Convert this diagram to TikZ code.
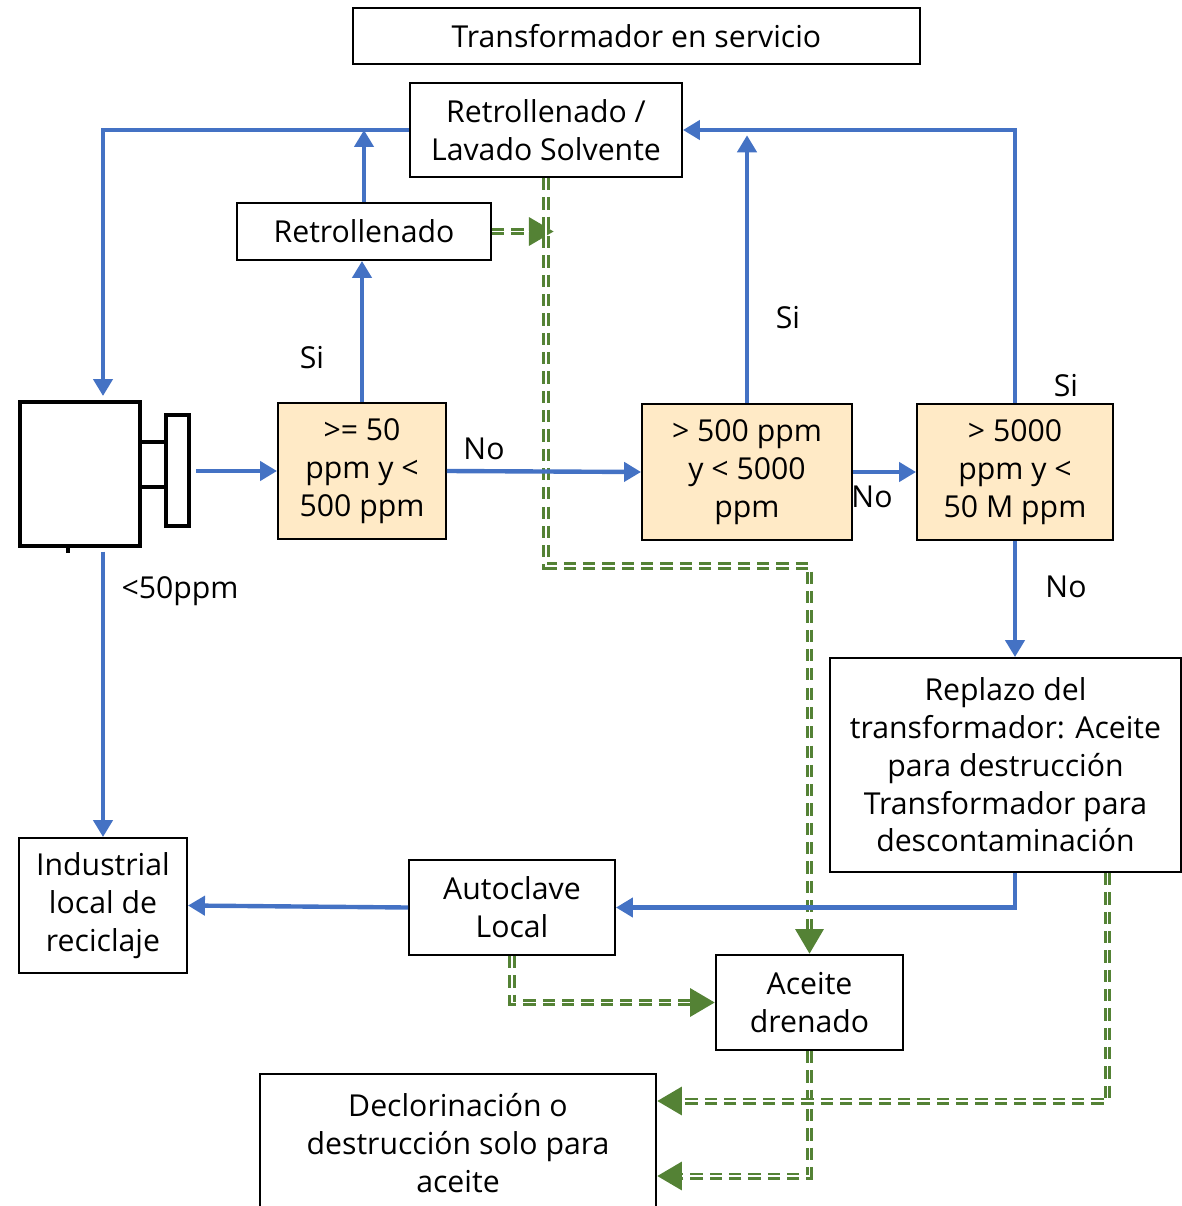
\documentclass[tikz,border=0pt]{standalone}
\usepackage{fontspec}
\setmainfont{Open Sans}
\usepackage{xcolor}
\definecolor{pcbblue}{HTML}{4472C4}
\definecolor{pcbgreen}{HTML}{548235}
\definecolor{pcbyellow}{HTML}{FFEAC6}
\usepackage{tikz}
\usetikzlibrary{positioning,arrows.meta,calc}
\tikzset{
  sbox/.style ={rectangle, draw=black, line width=1.1pt, fill=white,
                align=center, inner sep=0pt, font=\fontsize{17.2}{21.5}\selectfont},
  ybox/.style ={sbox, fill=pcbyellow, minimum height=2.72cm},
  arr/.style  ={-{Triangle[length=3.4mm, width=3.8mm]}, draw=pcbblue, line width=2.5pt},
  garr/.style ={-{Triangle[length=5mm, width=5.4mm]}, draw=pcbgreen, line width=4pt,
                dash pattern=on 7pt off 4pt,
                postaction={draw=white, line width=1.1pt, solid, -, shorten >=5mm}},
  el/.style   ={font=\fontsize{17.2}{20}\selectfont, inner sep=1pt},
}

\begin{document}
\begin{tikzpicture}[x=0.02cm, y=-0.02cm]
  \useasboundingbox (0,0) rectangle (1182,1206);
  % boxes
  \node[sbox, minimum width=11.34cm, minimum height=1.12cm] (top) at (636.5,36) {Transformador en servicio};
  \node[sbox, minimum width=5.44cm, minimum height=1.88cm] (lav) at (546,130) {Retrollenado /\\Lavado Solvente};
  \node[sbox, minimum width=5.08cm, minimum height=1.14cm] (retro) at (364,231.5) {Retrollenado};
  \node[ybox, minimum width=3.36cm] (c1) at (362,471) {>= 50\\ppm y <\\500 ppm};
  \node[ybox, minimum width=4.2cm] (c2) at (747,472) {> 500 ppm\\y < 5000\\ppm};
  \node[ybox, minimum width=3.92cm] (c3) at (1015,472) {> 5000\\ppm y <\\50 M ppm};
  \node[sbox, minimum width=7.02cm, minimum height=4.28cm] (repl) at (1005.5,765) {Replazo del\\transformador: Aceite\\para destrucción\\Transformador para\\descontaminación};
  \node[sbox, minimum width=3.36cm, minimum height=2.7cm] (ind) at (103,905.5) {Industrial\\local de\\reciclaje};
  \node[sbox, minimum width=4.12cm, minimum height=1.9cm] (auto) at (512,907.5) {Autoclave\\Local};
  \node[sbox, minimum width=3.74cm, minimum height=1.9cm] (ace) at (809.5,1002.5) {Aceite\\drenado};
  \node[sbox, minimum width=7.92cm, minimum height=2.76cm] (decl) at (458,1143) {Declorinación o\\destrucción solo para\\aceite};

  % green dashed connectors
  \draw[garr] (retro.east) -- ($(retro.east)+(62,0)$);
  \draw[garr] (lav.south) -- (lav.south |- 0,566) -| (ace.north);
  \draw[garr] (auto.south) |- (ace.west);
  \draw[garr] (ace.south) |- ($(decl.east)+(0,33)$);
  \draw[garr] ($(repl.south)+(102,0)$) |- ($(decl.east)+(0,-42)$);

  % transformer
  \node[draw, line width=2.3pt, minimum width=2.4cm, minimum height=2.88cm, inner sep=0pt] (tr) at (80,474) {};
  \node[draw, line width=2.3pt, minimum width=0.46cm, minimum height=2.22cm, inner sep=0pt] (plate) at (177.5,470.5) {};
  \draw[line width=2pt] (tr.east |- 0,442) -- (plate.west |- 0,442);
  \draw[line width=2pt] (tr.east |- 0,487) -- (plate.west |- 0,487);
  \draw[line width=2pt] (68,546) -- (68,553);
  \coordinate (tin) at (103,402);

  % blue connectors
  \draw[arr] (lav.west) -| ($(tin)+(0,-6)$);
  \draw[arr] (retro.north) -- (retro.north |- lav.west);
  \draw[arr] (c1.north) -- (c1.north |- retro.south);
  \draw[arr, shorten <=3pt] (plate.east |- c1.west) -- (c1.west);
  \draw[arr] (c1.east) -- (c2.west);
  \draw[arr] (c2.east) -- (c3.west);
  \draw[arr, shorten >=3pt] (c2.north) -- (c2.north |- lav.east);
  \draw[arr] (c3.north) |- (lav.east);
  \draw[arr] (c3.south) -- (c3.south |- repl.north);
  \draw[arr] (c3.south |- repl.south) |- (auto.east);
  \draw[arr] (auto.west) -- (ind.east);
  \draw[arr, shorten <=2pt] (tin |- tr.south) -- (tin |- ind.north);

  % labels
  \node[el] (l1) at (312,358) {Si};
  \node[el] (l2) at (484,449) {No};
  \node[el] (l3) at (788,318) {Si};
  \node[el] (l4) at (872,497) {No};
  \node[el] (l5) at (1066,386) {Si};
  \node[el] (l6) at (1066,587) {No};
  \node[el] (l7) at (180,591) {<50ppm};
\end{tikzpicture}
\end{document}
